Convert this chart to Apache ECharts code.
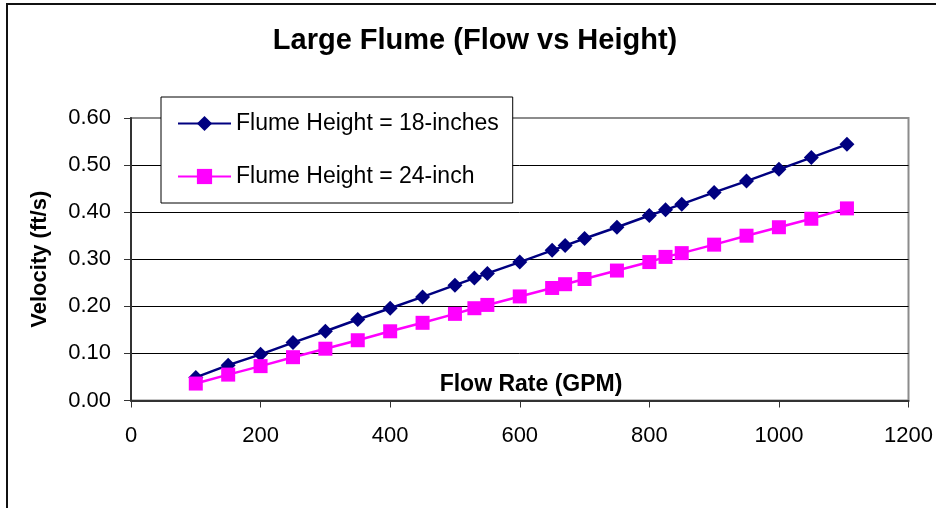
<!DOCTYPE html>
<html>
<head>
<meta charset="utf-8">
<title>Large Flume (Flow vs Height)</title>
<script src="https://cdn.jsdelivr.net/npm/echarts@6/dist/echarts.min.js"></script>
<style>
  html, body { margin: 0; padding: 0; background: #fff; }
  #chart { width: 936px; height: 508px; }
</style>
</head>
<body>
<div id="chart"></div>
<script>
// Flow rate (GPM) at each measurement
var flowRates = [100, 150, 200, 250, 300, 350, 400, 450, 500, 530, 550, 600,
                 650, 670, 700, 750, 800, 825, 850, 900, 950, 1000, 1050, 1105];

// Velocity (ft/s) for the 18-inch flume height
var velocity18 = [0.049, 0.075, 0.098, 0.123, 0.147, 0.172, 0.196, 0.220, 0.245, 0.260, 0.270, 0.294,
                  0.319, 0.329, 0.344, 0.368, 0.393, 0.405, 0.417, 0.442, 0.466, 0.491, 0.516, 0.544];

// Velocity (ft/s) for the 24-inch flume height
var velocity24 = [0.036, 0.055, 0.073, 0.092, 0.110, 0.128, 0.147, 0.165, 0.184, 0.196, 0.203, 0.221,
                  0.239, 0.247, 0.258, 0.276, 0.294, 0.305, 0.313, 0.331, 0.350, 0.368, 0.386, 0.408];

var seriesNames = ['Flume Height = 18-inches', 'Flume Height = 24-inch'];

function pairs(xs, ys) {
  return xs.map(function (x, i) { return [x, ys[i]]; });
}

var FONT = "'Liberation Sans', Arial, Helvetica, sans-serif";

var chart = echarts.init(document.getElementById('chart'), null, { renderer: 'canvas' });

chart.setOption({
  backgroundColor: '#ffffff',
  animation: false,
  textStyle: { fontFamily: FONT, color: '#000' },
  title: [
    {
      text: 'Large Flume (Flow vs Height)',
      left: 475,
      top: 26,
      textAlign: 'center',
      padding: 0,
      textStyle: { fontFamily: FONT, fontSize: 29, fontWeight: 'bold', color: '#000' }
    },
    {
      text: 'Flow Rate (GPM)',
      left: 531,
      top: 373,
      textAlign: 'center',
      padding: 0,
      textStyle: { fontFamily: FONT, fontSize: 23, fontWeight: 'bold', color: '#000' }
    }
  ],
  graphic: [
    {
      type: 'rect',
      shape: { x: 7, y: 4, width: 960, height: 540 },
      style: { fill: 'none', stroke: '#111', lineWidth: 2 },
      silent: true,
      z: 100
    }
  ],
  legend: {
    orient: 'vertical',
    left: 161,
    top: 97,
    data: seriesNames,
    backgroundColor: '#fff',
    borderColor: '#000',
    borderWidth: 1,
    borderRadius: 0,
    padding: [15, 14, 15, 16],
    itemWidth: 53,
    itemHeight: 19,
    itemGap: 30,
    textStyle: { fontFamily: FONT, fontSize: 23, color: '#000' },
    z: 10
  },
  grid: {
    left: 131,
    right: 27.5,
    top: 118,
    bottom: 107.5,
    show: true,
    borderColor: '#8c8c8c',
    borderWidth: 2,
    backgroundColor: '#fff'
  },
  xAxis: {
    type: 'value',
    min: 0,
    max: 1200,
    interval: 200,
    axisLine: { show: true, onZero: false, lineStyle: { color: '#333', width: 2 } },
    axisTick: { show: true, length: 7, lineStyle: { color: '#333', width: 1 } },
    axisLabel: {
      margin: 24,
      fontFamily: FONT,
      fontSize: 22,
      color: '#000',
      formatter: function (v) { return String(v); }
    },
    splitLine: { show: false }
  },
  yAxis: {
    type: 'value',
    min: 0,
    max: 0.6,
    interval: 0.1,
    name: 'Velocity (ft/s)',
    nameLocation: 'middle',
    nameGap: 80,
    nameRotate: 90,
    nameTextStyle: { fontFamily: FONT, fontSize: 22, fontWeight: 'bold', color: '#000' },
    axisLine: { show: true, onZero: false, lineStyle: { color: '#333', width: 2 } },
    axisTick: { show: true, length: 7, lineStyle: { color: '#333', width: 1 } },
    axisLabel: {
      margin: 20,
      fontFamily: FONT,
      fontSize: 22,
      color: '#000',
      formatter: function (v) { return v.toFixed(2); }
    },
    splitLine: { show: true, showMaxLine: false, lineStyle: { color: '#000', width: 1 } }
  },
  series: [
    {
      name: seriesNames[0],
      type: 'line',
      data: pairs(flowRates, velocity18),
      symbol: 'diamond',
      symbolSize: 15,
      color: '#000080',
      lineStyle: { color: '#000080', width: 2.5 },
      itemStyle: { color: '#000080' }
    },
    {
      name: seriesNames[1],
      type: 'line',
      data: pairs(flowRates, velocity24),
      symbol: 'rect',
      symbolSize: 14,
      color: '#ff00ff',
      lineStyle: { color: '#ff00ff', width: 2.5 },
      itemStyle: { color: '#ff00ff' }
    }
  ]
});
</script>
</body>
</html>
